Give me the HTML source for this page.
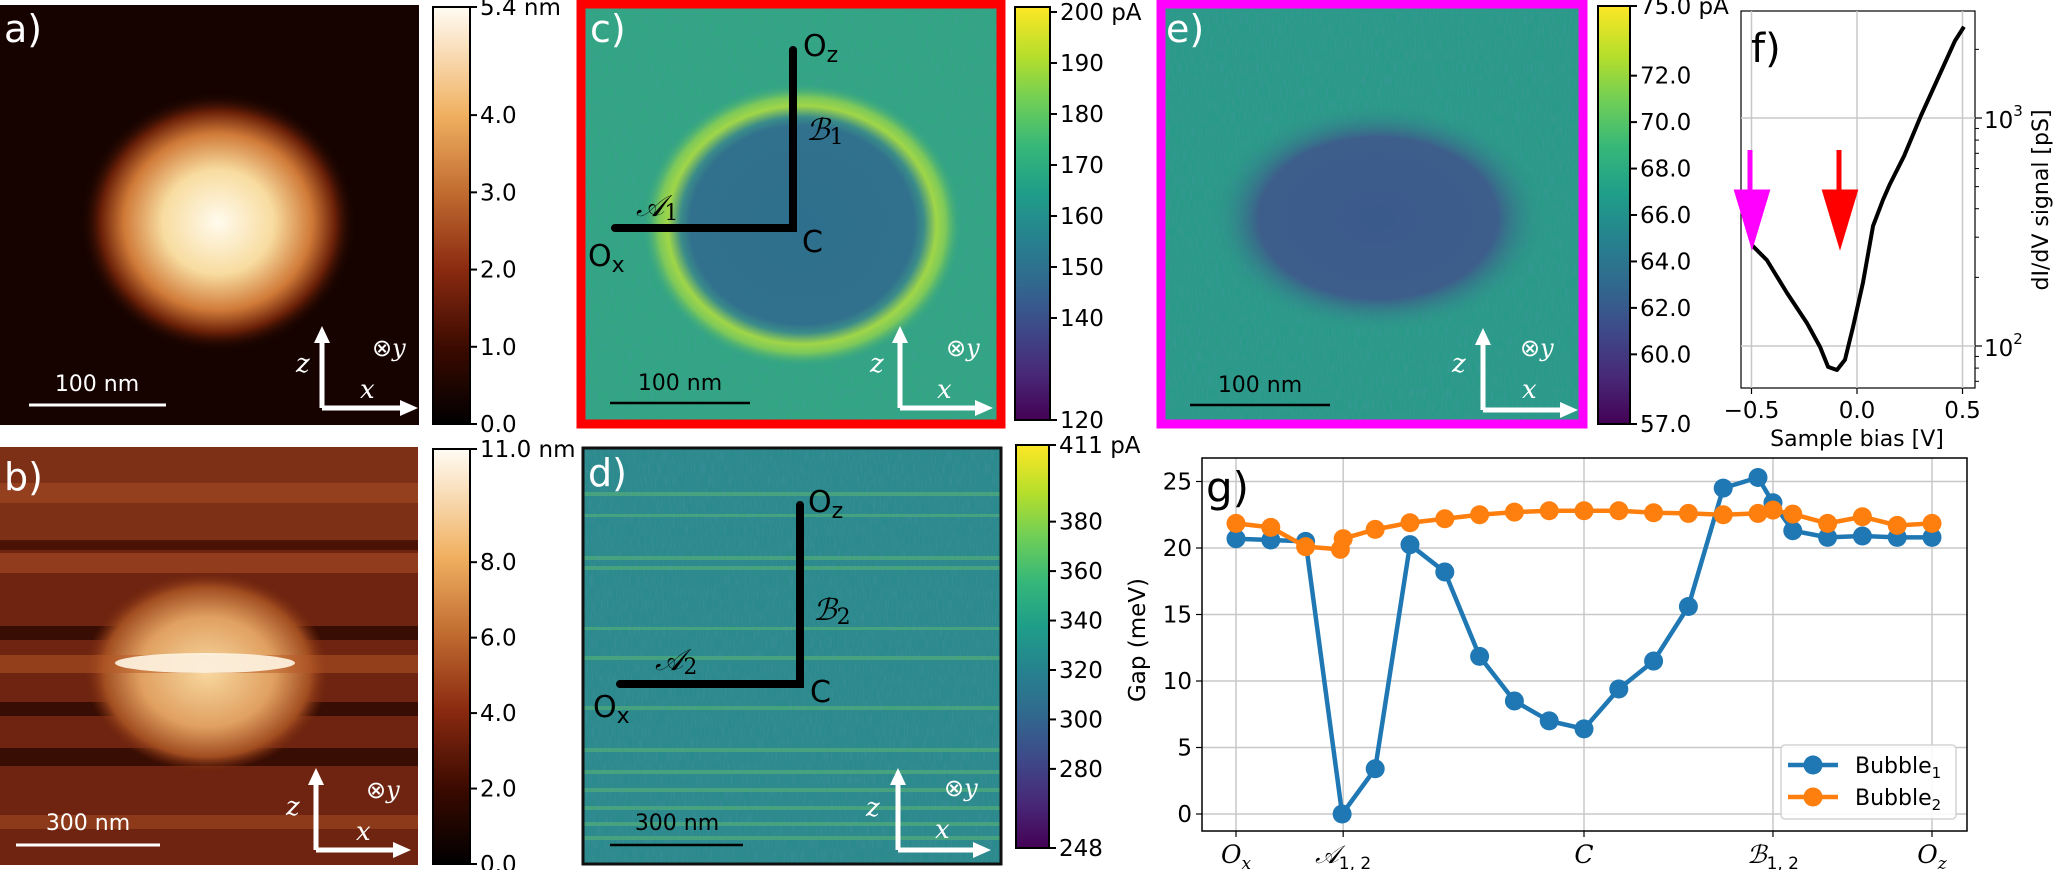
<!DOCTYPE html>
<html><head><meta charset="utf-8">
<style>
html,body{margin:0;padding:0;background:#fff;}
svg{display:block;font-family:"DejaVu Sans","Liberation Sans",sans-serif;}
.tk{font-size:23px;fill:#000;}
.ital{font-family:"DejaVu Serif","Liberation Serif",serif;font-style:italic;}
</style></head>
<body>
<svg id="fig" width="2064" height="870" viewBox="0 0 2064 870" xmlns="http://www.w3.org/2000/svg">
<defs>
  <linearGradient id="afm" x1="0" y1="1" x2="0" y2="0">
    <stop offset="0" stop-color="#000"/><stop offset="0.18" stop-color="#3a0a00"/>
    <stop offset="0.37" stop-color="#8a2a10"/><stop offset="0.55" stop-color="#c06a30"/>
    <stop offset="0.74" stop-color="#f0b060"/><stop offset="1" stop-color="#fffcf4"/>
  </linearGradient>
  <linearGradient id="vir" x1="0" y1="1" x2="0" y2="0">
    <stop offset="0" stop-color="#440154"/><stop offset="0.11" stop-color="#482878"/>
    <stop offset="0.22" stop-color="#3e4989"/><stop offset="0.33" stop-color="#31688e"/>
    <stop offset="0.44" stop-color="#26828e"/><stop offset="0.55" stop-color="#1f9e89"/>
    <stop offset="0.66" stop-color="#35b779"/><stop offset="0.77" stop-color="#6ece58"/>
    <stop offset="0.88" stop-color="#b5de2b"/><stop offset="1" stop-color="#fde725"/>
  </linearGradient>
  <radialGradient id="bubA" cx="0.5" cy="0.5" r="0.5">
    <stop offset="0" stop-color="#fffbee"/><stop offset="0.4" stop-color="#f8dca0"/>
    <stop offset="0.68" stop-color="#d07a38"/><stop offset="0.85" stop-color="#6a2008"/>
    <stop offset="1" stop-color="#160300" stop-opacity="0"/>
  </radialGradient>
  <radialGradient id="bubB" cx="0.5" cy="0.5" r="0.5">
    <stop offset="0" stop-color="#f8d8a0"/><stop offset="0.55" stop-color="#e0a060"/>
    <stop offset="0.85" stop-color="#a04c20"/><stop offset="1" stop-color="#7a2a10" stop-opacity="0"/>
  </radialGradient>
  <radialGradient id="ringC" cx="0.5" cy="0.5" r="0.5">
    <stop offset="0" stop-color="#2e6f8d"/><stop offset="0.7" stop-color="#31718d"/>
    <stop offset="0.76" stop-color="#3a8c8a"/><stop offset="0.84" stop-color="#a0d648"/>
    <stop offset="0.9" stop-color="#7cc85a"/><stop offset="1" stop-color="#32a583" stop-opacity="0"/>
  </radialGradient>
  <radialGradient id="ellE" cx="0.5" cy="0.5" r="0.5">
    <stop offset="0" stop-color="#3b5a8c"/><stop offset="0.7" stop-color="#3d5e8b"/>
    <stop offset="1" stop-color="#2a9a88" stop-opacity="0"/>
  </radialGradient>
  <filter id="noise" x="0" y="0" width="1" height="1">
    <feTurbulence type="fractalNoise" baseFrequency="0.9 0.08" numOctaves="2" seed="3"/>
    <feColorMatrix type="matrix" values="0 0 0 0 0.1  0 0 0 0 0.3  0 0 0 0 0.45  0 0 0 1.4 -0.6"/>
  </filter>
</defs>

<!-- Panel a -->
<g>
  <rect x="0" y="5" width="419" height="420" fill="#160300"/>
  <ellipse cx="218" cy="222" rx="138" ry="130" fill="url(#bubA)"/>
  <text x="4" y="42" font-size="38" fill="#fff">a)</text>
  <line x1="29" y1="405" x2="166" y2="405" stroke="#fff" stroke-width="3"/>
  <text x="97" y="391" font-size="22" fill="#fff" text-anchor="middle">100 nm</text>
  <g stroke="#fff" stroke-width="5" fill="none"><path d="M322,408 V340 M322,408 H405"/></g>
  <path d="M314,343 L322,326 L330,343 z M400,400 L418,408 L400,416 z" fill="#fff"/>
  <text x="296" y="372" class="ital" font-size="26" fill="#fff">z</text>
  <text x="360" y="398" class="ital" font-size="26" fill="#fff">x</text>
  <text x="372" y="356" font-size="24" fill="#fff">⊗<tspan class="ital">y</tspan></text>
</g>
<g>
  <rect x="433" y="7" width="37" height="417" fill="url(#afm)" stroke="#000" stroke-width="2"/>
  <g id="cbA"></g>
</g>

<!-- Panel c -->
<g>
  <rect x="581" y="4" width="420" height="420" fill="#32a583"/>
  <rect x="581" y="4" width="420" height="420" filter="url(#noise)" opacity="0.45"/>
  <ellipse cx="802" cy="225" rx="160" ry="142" fill="url(#ringC)"/>
  <rect x="581" y="4" width="420" height="420" fill="none" stroke="#ff0000" stroke-width="9"/>
  <text x="590" y="42" font-size="38" fill="#fff">c)</text>
  <g stroke="#000" stroke-width="8" stroke-linecap="round" fill="none"><path d="M615,228 H793 V50"/></g>
  <text x="803" y="56" font-size="30">O<tspan font-size="22" dy="6">z</tspan></text>
  <text x="806" y="140" class="ital" font-size="30">ℬ<tspan font-size="22" dy="4" font-style="normal">1</tspan></text>
  <text x="636" y="216" class="ital" font-size="30">𝒜<tspan font-size="22" dy="4" font-style="normal">1</tspan></text>
  <text x="588" y="266" font-size="30">O<tspan font-size="22" dy="6">x</tspan></text>
  <text x="802" y="252" font-size="30">C</text>
  <line x1="610" y1="403" x2="750" y2="403" stroke="#000" stroke-width="2.5"/>
  <text x="680" y="390" font-size="22" text-anchor="middle">100 nm</text>
  <g stroke="#fff" stroke-width="5" fill="none"><path d="M900,408 V340 M900,408 H980"/></g>
  <path d="M892,343 L900,326 L908,343 z M975,400 L993,408 L975,416 z" fill="#fff"/>
  <text x="870" y="372" class="ital" font-size="26" fill="#fff">z</text>
  <text x="937" y="398" class="ital" font-size="26" fill="#fff">x</text>
  <text x="946" y="356" font-size="24" fill="#fff">⊗<tspan class="ital">y</tspan></text>
</g>
<g>
  <rect x="1015" y="7" width="35" height="413" fill="url(#vir)" stroke="#000" stroke-width="2"/>
  <g id="cbC"></g>
</g>

<!-- Panel e -->
<g>
  <rect x="1161" y="4" width="422" height="420" fill="#2a9a88"/>
  <rect x="1161" y="4" width="422" height="420" filter="url(#noise)" opacity="0.55"/>
  <ellipse cx="1378" cy="218" rx="170" ry="115" fill="url(#ellE)"/>
  <rect x="1161" y="4" width="422" height="420" fill="none" stroke="#ff00ff" stroke-width="9"/>
  <text x="1166" y="42" font-size="38" fill="#fff">e)</text>
  <line x1="1190" y1="405" x2="1330" y2="405" stroke="#000" stroke-width="2.5"/>
  <text x="1260" y="392" font-size="22" text-anchor="middle">100 nm</text>
  <g stroke="#fff" stroke-width="5" fill="none"><path d="M1483,410 V342 M1483,410 H1565"/></g>
  <path d="M1475,345 L1483,328 L1491,345 z M1560,402 L1578,410 L1560,418 z" fill="#fff"/>
  <text x="1452" y="372" class="ital" font-size="26" fill="#fff">z</text>
  <text x="1522" y="398" class="ital" font-size="26" fill="#fff">x</text>
  <text x="1520" y="356" font-size="24" fill="#fff">⊗<tspan class="ital">y</tspan></text>
</g>
<g>
  <rect x="1598" y="6" width="32" height="418" fill="url(#vir)" stroke="#000" stroke-width="2"/>
  <g id="cbE"></g>
</g>

<!-- Panel b -->
<g>
  <rect x="0" y="447" width="418" height="418" fill="#6e2410"/>
  <rect x="0" y="447" width="418" height="95" fill="#7e3016"/>
  <rect x="0" y="483" width="418" height="20" fill="#9a4420" opacity="0.8"/>
  <rect x="0" y="553" width="418" height="20" fill="#9a4420" opacity="0.8"/>
  <rect x="0" y="540" width="418" height="10" fill="#3a0c02" opacity="0.7"/>
  <rect x="0" y="626" width="418" height="14" fill="#2a0800" opacity="0.8"/>
  <rect x="0" y="702" width="418" height="14" fill="#2a0800" opacity="0.8"/>
  <rect x="0" y="748" width="418" height="18" fill="#2a0800" opacity="0.8"/>
  <rect x="0" y="815" width="418" height="14" fill="#9a4420" opacity="0.7"/>
  <ellipse cx="207" cy="672" rx="122" ry="100" fill="url(#bubB)"/>
  <rect x="0" y="655" width="418" height="18" fill="#b85a28" opacity="0.5"/>
  <ellipse cx="205" cy="663" rx="90" ry="10" fill="#fff6e4" opacity="0.9"/>
  <text x="4" y="490" font-size="38" fill="#fff">b)</text>
  <line x1="16" y1="845" x2="160" y2="845" stroke="#fff" stroke-width="3"/>
  <text x="88" y="830" font-size="22" fill="#fff" text-anchor="middle">300 nm</text>
  <g stroke="#fff" stroke-width="5" fill="none"><path d="M316,850 V782 M316,850 H398"/></g>
  <path d="M308,785 L316,768 L324,785 z M393,842 L411,850 L393,858 z" fill="#fff"/>
  <text x="286" y="815" class="ital" font-size="26" fill="#fff">z</text>
  <text x="356" y="840" class="ital" font-size="26" fill="#fff">x</text>
  <text x="366" y="798" font-size="24" fill="#fff">⊗<tspan class="ital">y</tspan></text>
</g>
<g>
  <rect x="433" y="449" width="37" height="415" fill="url(#afm)" stroke="#000" stroke-width="2"/>
  <g id="cbB"></g>
</g>

<!-- Panel d -->
<g>
  <rect x="583" y="448" width="418" height="416" fill="#2b8a8c"/>
  <g fill="#5cb870" opacity="0.55">
    <rect x="583" y="492" width="418" height="4"/><rect x="583" y="514" width="418" height="3"/>
    <rect x="583" y="556" width="418" height="4"/><rect x="583" y="566" width="418" height="4"/>
    <rect x="583" y="627" width="418" height="3"/><rect x="583" y="656" width="418" height="4"/>
    <rect x="583" y="706" width="418" height="4"/><rect x="583" y="748" width="418" height="4"/>
    <rect x="583" y="770" width="418" height="4"/><rect x="583" y="788" width="418" height="4"/>
    <rect x="583" y="806" width="418" height="4"/><rect x="583" y="822" width="418" height="4"/>
    <rect x="583" y="836" width="418" height="4"/>
  </g>
  <rect x="583" y="448" width="418" height="416" filter="url(#noise)" opacity="0.5"/>
  <rect x="583" y="448" width="418" height="416" fill="none" stroke="#111" stroke-width="3"/>
  <text x="588" y="486" font-size="38" fill="#fff">d)</text>
  <g stroke="#000" stroke-width="8" stroke-linecap="round" fill="none"><path d="M620,684 H800 V505"/></g>
  <text x="808" y="512" font-size="30">O<tspan font-size="22" dy="6">z</tspan></text>
  <text x="813" y="620" class="ital" font-size="30">ℬ<tspan font-size="22" dy="4" font-style="normal">2</tspan></text>
  <text x="655" y="670" class="ital" font-size="30">𝒜<tspan font-size="22" dy="4" font-style="normal">2</tspan></text>
  <text x="593" y="717" font-size="30">O<tspan font-size="22" dy="6">x</tspan></text>
  <text x="810" y="702" font-size="30">C</text>
  <line x1="610" y1="845" x2="743" y2="845" stroke="#000" stroke-width="2.5"/>
  <text x="677" y="830" font-size="22" text-anchor="middle">300 nm</text>
  <g stroke="#fff" stroke-width="5" fill="none"><path d="M898,850 V782 M898,850 H978"/></g>
  <path d="M890,785 L898,768 L906,785 z M973,842 L991,850 L973,858 z" fill="#fff"/>
  <text x="866" y="816" class="ital" font-size="26" fill="#fff">z</text>
  <text x="935" y="838" class="ital" font-size="26" fill="#fff">x</text>
  <text x="944" y="796" font-size="24" fill="#fff">⊗<tspan class="ital">y</tspan></text>
</g>
<g>
  <rect x="1016" y="445" width="33" height="403" fill="url(#vir)" stroke="#000" stroke-width="2"/>
  <g id="cbD"></g>
</g>

<g id="panelF"></g>
<g id="panelG"></g>
</svg>

<script>
const cbATicks = ["5.4 nm","4.0","3.0","2.0","1.0","0.0"];
const cbAVals = [5.4,4,3,2,1,0];
const cbBTicks = ["11.0 nm","8.0","6.0","4.0","2.0","0.0"];
const cbBVals = [11,8,6,4,2,0];
const cbCTicks = ["200 pA","190","180","170","160","150","140","120"];
const cbCVals = [200,190,180,170,160,150,140,120];
const cbDTicks = ["411 pA","380","360","340","320","300","280","248"];
const cbDVals = [411,380,360,340,320,300,280,248];
const cbETicks = ["75.0 pA","72.0","70.0","68.0","66.0","64.0","62.0","60.0","57.0"];
const cbEVals = [75,72,70,68,66,64,62,60,57];

const fBias = [-0.498,-0.427,-0.332,-0.237,-0.175,-0.137,-0.095,-0.057,-0.019,0.028,0.076,0.123,0.156,0.223,0.303,0.384,0.464,0.507];
const fSignal = [277,238,171,126,99,81,78.5,87,121,189,336,437,513,681,1023,1496,2178,2513];
const fXTicks = [-0.5,0.0,0.5];
const fXTickLabels = ["\u22120.5","0.0","0.5"];

const gXTickPos = [0,3.08,10,15.43,20];
const gYTicks = [0,5,10,15,20,25];
const bubble1X = [0,1,2,3.05,4,5,6,7,8,9,10,11,12,13,14,15,15.43,16,17,18,19,20];
const bubble1Y = [20.7,20.6,20.5,0,3.4,20.25,18.2,11.85,8.5,7.0,6.4,9.4,11.5,15.6,24.5,25.3,23.4,21.3,20.8,20.9,20.8,20.8];
const bubble2X = [0,1,2,3.0,3.08,4,5,6,7,8,9,10,11,12,13,14,15,15.43,16,17,18,19,20];
const bubble2Y = [21.85,21.55,20.1,19.9,20.7,21.4,21.9,22.2,22.5,22.7,22.8,22.8,22.8,22.65,22.6,22.5,22.6,22.85,22.55,21.85,22.35,21.7,21.85];

const NS = "http://www.w3.org/2000/svg";
function mk(tag, attrs, parent){const e=document.createElementNS(NS,tag);for(const k in attrs)e.setAttribute(k,attrs[k]);if(parent)parent.appendChild(e);return e;}

function colorbar(id, x, top, bottom, vmax, vmin, vals, labels){
  const g=document.getElementById(id);
  const sc=v=>bottom-(v-vmin)/(vmax-vmin)*(bottom-top);
  vals.forEach((v,i)=>{
    const y=sc(v);
    const t=mk("line",{x1:x,y1:y,x2:x+7,y2:y,stroke:"#000","stroke-width":2},g);
    
    
    const tx=mk("text",{x:x+10,y:y+8,class:"tk"},g);
    tx.textContent=labels[i];
    
    
  });
}
colorbar("cbA",470,7,424,5.4,0,cbAVals,cbATicks);
colorbar("cbB",470,449,864,11,0,cbBVals,cbBTicks);
colorbar("cbC",1050,12,420,200,120,cbCVals,cbCTicks);
colorbar("cbD",1049,445,848,411,248,cbDVals,cbDTicks);
colorbar("cbE",1630,6,424,75,57,cbEVals,cbETicks);

(function(){
  const g=document.getElementById("panelF");
  const L=1741,R=1975,T=11,B=388;
  const xs=v=>1857+v*211;
  const ys=v=>346-(Math.log10(v)-2)*228;
  mk("rect",{x:L,y:T,width:R-L,height:B-T,fill:"#fff",stroke:"#000","stroke-width":1.2},g);
  fXTicks.forEach((v,i)=>{
    const x=xs(v);
    const gl=mk("line",{x1:x,y1:T,x2:x,y2:B,stroke:"#c8c8c8","stroke-width":1.5},g);
    
    
    mk("line",{x1:x,y1:B,x2:x,y2:B+6,stroke:"#000","stroke-width":1.2},g);
    const t=mk("text",{x:x,y:B+30,"text-anchor":"middle",class:"tk"},g);
    t.textContent=fXTickLabels[i];
    
    
  });
  [100,1000].forEach(v=>{
    const y=ys(v);
    mk("line",{x1:L,y1:y,x2:R,y2:y,stroke:"#c8c8c8","stroke-width":1.5},g);
    mk("line",{x1:R,y1:y,x2:R+7,y2:y,stroke:"#000","stroke-width":1.2},g);
    const t=mk("text",{x:R+9,y:y+10,class:"tk"},g);
    t.innerHTML='10<tspan font-size="15" dy="-12">'+(v===100?'2':'3')+'</tspan>';
    
    
  });
  [70,80,90,200,300,400,500,600,700,800,900,2000].forEach(v=>{
    const y=ys(v); if(y<T||y>B)return;
    mk("line",{x1:R,y1:y,x2:R+4,y2:y,stroke:"#000","stroke-width":1},g);
  });
  const pts=fBias.map((b,i)=>xs(b)+","+ys(fSignal[i])).join(" ");
  const pl=mk("polyline",{points:pts,fill:"none",stroke:"#000","stroke-width":4,"stroke-linejoin":"round"},g);
  
  
  const a1=mk("path",{d:"M1750,150 V200 M1737,192 L1752,242 L1767,192 z",fill:"#ff00ff",stroke:"#ff00ff","stroke-width":5},g);
  
  
  const a2=mk("path",{d:"M1839,150 V200 M1825,192 L1840,242 L1855,192 z",fill:"#ff0000",stroke:"#ff0000","stroke-width":5},g);
  
  
  const fl=mk("text",{x:1751,y:62,"font-size":40},g); fl.textContent="f)";
  
  
  const xl=mk("text",{x:1857,y:446,"text-anchor":"middle","font-size":22},g); xl.textContent="Sample bias [V]";
  
  
  const yl=mk("text",{x:0,y:0,"text-anchor":"middle","font-size":22,transform:"translate(2048,200) rotate(-90)"},g); yl.textContent="dI/dV signal [pS]";
  
  
})();

(function(){
  const g=document.getElementById("panelG");
  const L=1202,R=1967,T=458,B=831;
  const xs=v=>1236+v*34.8;
  const ys=v=>814-v*13.3;
  mk("rect",{x:L,y:T,width:R-L,height:B-T,fill:"#fff"},g);
  gYTicks.forEach(v=>{
    const y=ys(v);
    const gl=mk("line",{x1:L,y1:y,x2:R,y2:y,stroke:"#c8c8c8","stroke-width":1.5},g);
    
    
    mk("line",{x1:L-6,y1:y,x2:L,y2:y,stroke:"#000","stroke-width":1.2},g);
    const t=mk("text",{x:L-10,y:y+8,"text-anchor":"end",class:"tk"},g);
    t.textContent=v;
    
    
  });
  const xlabs=['<tspan class="ital">O</tspan><tspan font-size="17" dy="6" class="ital">x</tspan>',
    '<tspan class="ital">𝒜</tspan><tspan font-size="17" dy="6">1, 2</tspan>',
    '<tspan class="ital">C</tspan>',
    '<tspan class="ital">ℬ</tspan><tspan font-size="17" dy="6">1, 2</tspan>',
    '<tspan class="ital">O</tspan><tspan font-size="17" dy="6" class="ital">z</tspan>'];
  gXTickPos.forEach((v,i)=>{
    const x=xs(v);
    const gl=mk("line",{x1:x,y1:T,x2:x,y2:B,stroke:"#c8c8c8","stroke-width":1.5},g);
    
    
    mk("line",{x1:x,y1:B,x2:x,y2:B+6,stroke:"#000","stroke-width":1.2},g);
    const t=mk("text",{x:x,y:B+32,"text-anchor":"middle","font-size":25},g);
    t.innerHTML=xlabs[i];
    
    
  });
  function series(X,Y,col,name){
    const sg=mk("g",{},g);
    
    
    mk("polyline",{points:X.map((x,i)=>xs(x)+","+ys(Y[i])).join(" "),fill:"none",stroke:col,"stroke-width":4.5,"stroke-linejoin":"round"},sg);
    X.forEach((x,i)=>{
      const c=mk("circle",{cx:xs(x),cy:ys(Y[i]),r:9.5,fill:col},sg);
      
      
    });
  }
  series(bubble1X,bubble1Y,"#1f77b4","series-bubble1");
  series(bubble2X,bubble2Y,"#ff7f0e","series-bubble2");
  mk("rect",{x:L,y:T,width:R-L,height:B-T,fill:"none",stroke:"#000","stroke-width":1.5},g);
  const gl=mk("text",{x:1206,y:502,"font-size":42},g); gl.textContent="g)";
  
  
  const yl=mk("text",{x:0,y:0,"text-anchor":"middle","font-size":23,transform:"translate(1145,640) rotate(-90)"},g); yl.textContent="Gap (meV)";
  
  
  const lg=mk("g",{},g);
  
  
  mk("rect",{x:1781,y:745,width:175,height:74,rx:4,fill:"#fff",stroke:"#d0d0d0","stroke-width":1.5,opacity:0.9},lg);
  [["#1f77b4","1",765],["#ff7f0e","2",797]].forEach(e=>{
    const en=mk("g",{},lg);
    
    
    mk("line",{x1:1788,y1:e[2],x2:1838,y2:e[2],stroke:e[0],"stroke-width":4.5},en);
    mk("circle",{cx:1813,cy:e[2],r:9.5,fill:e[0]},en);
    const t=mk("text",{x:1855,y:e[2]+8,"font-size":22},en);
    t.innerHTML='Bubble<tspan font-size="15" dy="5">'+e[1]+'</tspan>';
  });
})();
</script>
</body></html>
